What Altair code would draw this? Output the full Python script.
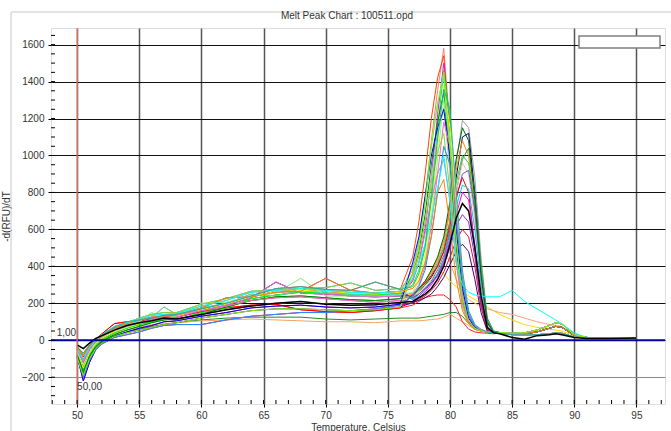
import altair as alt
import pandas as pd

TITLE = "Melt Peak Chart : 100511.opd"
X_TITLE = "Temperature, Celsius"
Y_TITLE = "-d(RFU)/dT"

X_TICKS = [50, 55, 60, 65, 70, 75, 80, 85, 90, 95]
Y_TICKS = [-200, 0, 200, 400, 600, 800, 1000, 1200, 1400, 1600]
X_MINOR = list(range(48, 98))
Y_MINOR = list(range(-300, 1700, 50))

# temperature grids (deg C)
TEMP_LOW = [50, 50.5, 51, 51.5, 52, 53, 54, 55, 56, 57, 58, 60, 62, 64, 66, 68, 70, 72, 74, 76]
TEMP_MID = [77, 77.5, 78, 78.5, 79, 79.5, 80, 80.5, 81, 81.5, 82, 82.5, 83, 83.5]
TEMP_TAIL = [84, 85, 86, 87, 88, 88.5, 89, 90, 91, 93, 95]

# low-temperature parts of the traces (50-76 C)
L0 = [-25, -45, -15, 10, 25, 55, 80, 95, 105, 120, 115, 140, 165, 185, 200, 210, 195, 190, 192, 205]
L1 = [-50, -100, -40, 0, 30, 75, 95, 115, 135, 140, 145, 185, 215, 260, 270, 280, 270, 260, 255, 265]
L2 = [-90, -200, -110, -50, -20, 15, 30, 45, 65, 80, 85, 85, 110, 130, 140, 150, 150, 160, 170, 190]
L3 = [-60, -130, -60, -15, 15, 50, 70, 100, 150, 120, 130, 200, 205, 240, 255, 335, 240, 240, 235, 245]
L4 = [-70, -160, -80, -30, 0, 40, 65, 85, 100, 115, 110, 150, 175, 225, 245, 260, 255, 250, 245, 255]
L5 = [-35, -70, -25, 5, 30, 70, 100, 110, 120, 135, 140, 170, 200, 240, 280, 290, 275, 270, 315, 275]
L6 = [-80, -180, -90, -40, -10, 25, 45, 60, 75, 85, 95, 110, 120, 125, 125, 125, 115, 110, 115, 120]
L7 = [-60, -140, -70, -25, 5, 35, 55, 70, 85, 90, 95, 105, 110, 115, 110, 105, 100, 100, 95, 105]
L8 = [-45, -90, -30, 5, 35, 90, 100, 105, 115, 125, 125, 155, 175, 190, 195, 165, 155, 150, 160, 175]
L9 = [-55, -110, -45, 0, 25, 60, 85, 105, 125, 180, 140, 175, 200, 250, 240, 270, 255, 250, 240, 250]
L10 = [-75, -170, -85, -35, -5, 30, 55, 75, 95, 110, 115, 140, 180, 215, 235, 240, 230, 220, 215, 225]
L11 = [-40, -80, -30, 0, 25, 65, 90, 110, 125, 130, 135, 175, 230, 235, 260, 265, 335, 270, 255, 265]
L12 = [-85, -220, -120, -50, -15, 20, 45, 65, 80, 100, 105, 130, 150, 175, 185, 190, 180, 175, 180, 195]
L13 = [-50, -120, -50, -5, 25, 60, 80, 95, 110, 125, 125, 160, 190, 230, 315, 255, 250, 240, 235, 240]
L14 = [-65, -150, -70, -20, 10, 45, 70, 90, 110, 120, 130, 165, 195, 235, 265, 270, 265, 255, 250, 260]
L15 = [-55, -105, -45, -10, 20, 55, 75, 95, 115, 130, 140, 160, 185, 215, 230, 235, 225, 215, 205, 215]
L16 = [-95, -190, -100, -45, -15, 20, 40, 55, 70, 85, 95, 120, 140, 160, 170, 170, 165, 160, 165, 180]
L17 = [-45, -85, -35, 0, 30, 70, 95, 120, 140, 150, 150, 195, 225, 265, 275, 280, 285, 310, 270, 280]

# melt peaks near 79.5 C (77-83.5 C)
A1 = [380, 520, 760, 1080, 1350, 1580, 1150, 600, 250, 110, 70, 55, 45, 40]
A2 = [450, 640, 900, 1200, 1420, 1540, 1100, 520, 220, 100, 65, 50, 45, 40]
A3 = [320, 420, 600, 880, 1220, 1500, 1150, 650, 300, 130, 75, 55, 45, 40]
A4 = [300, 380, 520, 800, 1140, 1460, 1200, 700, 320, 140, 80, 55, 45, 40]
A5 = [400, 540, 780, 1050, 1280, 1420, 1000, 500, 200, 90, 60, 50, 45, 40]
A6 = [280, 340, 460, 700, 1050, 1380, 1150, 750, 350, 150, 80, 55, 45, 40]
A7 = [360, 480, 680, 950, 1180, 1340, 950, 500, 220, 100, 65, 50, 45, 40]
A8 = [260, 320, 430, 650, 980, 1300, 1100, 700, 330, 140, 80, 55, 45, 40]
A9 = [340, 450, 640, 880, 1100, 1260, 900, 450, 200, 95, 60, 50, 45, 40]
A10 = [420, 560, 780, 1000, 1150, 1250, 1000, 600, 280, 120, 70, 50, 45, 40]
A11 = [250, 300, 400, 620, 900, 1180, 1050, 700, 350, 150, 80, 55, 45, 40]
A12 = [350, 460, 640, 850, 1020, 1120, 800, 420, 180, 90, 60, 50, 45, 40]
A13 = [240, 290, 380, 560, 800, 1050, 950, 650, 320, 140, 75, 50, 45, 40]
A14 = [330, 420, 580, 760, 900, 980, 750, 420, 200, 95, 60, 50, 45, 40]
A15 = [280, 320, 420, 560, 800, 870, 620, 330, 160, 90, 60, 50, 45, 40]
A16 = [330, 420, 520, 660, 820, 1000, 750, 420, 300, 260, 245, 240, 235, 235]
A17 = [360, 500, 740, 1050, 1280, 1450, 1050, 550, 230, 105, 65, 50, 45, 40]
A18 = [290, 360, 500, 760, 1090, 1360, 1250, 800, 380, 160, 85, 60, 45, 40]

# melt peaks near 81.2 C
B1 = [240, 270, 310, 360, 420, 520, 700, 950, 1190, 1150, 880, 450, 120, 50]
B2 = [230, 260, 300, 340, 400, 480, 640, 880, 1100, 1120, 800, 380, 100, 45]
B3 = [250, 280, 320, 370, 440, 540, 720, 920, 1080, 1000, 700, 320, 90, 45]
B4 = [220, 250, 280, 320, 380, 460, 600, 800, 980, 1040, 780, 400, 120, 50]
B5 = [240, 270, 300, 350, 410, 500, 650, 850, 1000, 960, 720, 380, 110, 50]
B6 = [230, 260, 290, 330, 390, 470, 620, 800, 960, 900, 650, 300, 80, 45]
B7 = [210, 240, 270, 310, 360, 440, 580, 760, 900, 920, 700, 350, 100, 45]
B8 = [250, 280, 310, 350, 400, 480, 620, 780, 880, 800, 500, 200, 60, 40]
B9 = [220, 250, 280, 310, 360, 430, 560, 720, 840, 820, 600, 300, 90, 45]
B10 = [200, 230, 260, 300, 350, 420, 540, 680, 800, 760, 520, 250, 70, 40]
B11 = [210, 230, 250, 280, 330, 400, 520, 660, 740, 700, 500, 240, 70, 40]
B12 = [230, 250, 280, 310, 350, 410, 500, 620, 680, 640, 450, 200, 60, 40]
B13 = [200, 220, 240, 270, 310, 370, 450, 540, 600, 560, 400, 180, 55, 40]
B14 = [205, 215, 230, 250, 290, 340, 410, 480, 520, 480, 330, 150, 50, 40]
B15 = [240, 280, 320, 380, 450, 560, 750, 980, 1150, 1080, 760, 350, 95, 45]

# flat / odd traces
S1 = [120, 120, 125, 130, 135, 140, 150, 150, 130, 90, 60, 50, 45, 40]
S2 = [105, 105, 108, 112, 115, 125, 140, 120, 100, 80, 60, 50, 45, 40]
S3 = [190, 210, 230, 240, 245, 245, 220, 180, 100, 60, 45, 40, 38, 35]
S4 = [240, 270, 300, 340, 380, 360, 320, 290, 260, 240, 220, 200, 180, 160]
S5 = [250, 280, 320, 370, 430, 500, 420, 330, 260, 220, 200, 185, 170, 160]

# high-temperature tails (84-95 C)
T0 = [40, 35, 35, 45, 65, 75, 70, 25, 15, 12, 12]
T1 = [38, 30, 28, 30, 35, 40, 38, 18, 12, 10, 10]
T2 = [42, 38, 40, 55, 80, 95, 88, 30, 15, 12, 13]
T3 = [35, 15, 5, 25, 30, 35, 30, 15, 10, 10, 12]
T4 = [235, 270, 210, 170, 130, 110, 90, 40, 15, 12, 12]
T5 = [140, 110, 85, 70, 60, 55, 50, 25, 15, 12, 12]
T6 = [150, 140, 120, 100, 85, 80, 75, 30, 15, 12, 12]

CURVES = [
    ("S1", L6, S1, T1, "#228B22", 1), ("S2", L7, S2, T1, "#F4A460", 1),
    ("S3", L8, S3, T1, "#FF2020", 1), ("S4", L2, S4, T5, "#FFD700", 1),
    ("S5", L14, S5, T6, "#FFA07A", 1),
    ("B1", L0, B1, T0, "#A0A0A0", 1), ("B2", L14, B2, T2, "#000080", 1),
    ("B3", L9, B3, T1, "#FF8C00", 1), ("B4", L4, B4, T2, "#2E8B57", 1),
    ("B5", L10, B5, T0, "#32CD32", 1), ("B6", L3, B6, T1, "#FFB6C1", 1),
    ("B7", L15, B7, T2, "#6A5ACD", 1), ("B8", L8, B8, T0, "#FF0000", 1),
    ("B9", L17, B9, T1, "#00CED1", 1), ("B10", L2, B10, T0, "#FF00FF", 1),
    ("B12", L11, B12, T2, "#8A2BE2", 1), ("B13", L12, B13, T1, "#DC143C", 1),
    ("B14", L16, B14, T0, "#4B0082", 1), ("B15", L13, B15, T2, "#006400", 1),
    ("A1", L1, A1, T2, "#FA8072", 1), ("A2", L5, A2, T0, "#FF4500", 1),
    ("A3", L13, A3, T1, "#FF00FF", 1), ("A4", L4, A4, T0, "#00FF00", 1),
    ("A5", L9, A5, T2, "#40E0D0", 1), ("A6", L14, A6, T1, "#FFFF00", 1),
    ("A7", L10, A7, T0, "#008000", 1), ("A8", L3, A8, T2, "#80FF80", 1),
    ("A9", L0, A9, T1, "#C0C0C0", 1), ("A10", L12, A10, T0, "#0000FF", 1),
    ("A11", L15, A11, T2, "#FF69B4", 1), ("A12", L17, A12, T1, "#9ACD32", 1),
    ("A13", L2, A13, T0, "#1E90FF", 1), ("A14", L13, A14, T1, "#DA70D6", 1),
    ("A15", L11, A15, T0, "#FF7F00", 1), ("A16", L1, A16, T4, "#00FFFF", 1),
    ("A17", L16, A17, T2, "#7CFC00", 1), ("A18", L5, A18, T1, "#20B2AA", 1),
    ("B11", L0, B11, T3, "#000000", 1.5),
]

CROSS_LABELS = ["1,00", "50,00"]
CROSS_T = [50, 50]
CROSS_V = [0, -225]

rows = []
for name, low, mid, tail, color, w in CURVES:
    temps = TEMP_LOW + TEMP_MID + TEMP_TAIL
    vals = low + mid + tail
    for t, v in zip(temps, vals):
        rows.append({"curve": name, "T": t, "v": v, "w": w})
df = pd.DataFrame(rows)

W, H = 614, 376
FONT = "Liberation Sans"

xs = alt.Scale(domain=[47.9, 97.3], nice=False, zero=False)
ys = alt.Scale(domain=[-345, 1690], nice=False, zero=False)

x_axis = alt.Axis(values=X_TICKS, title=X_TITLE, grid=True, gridColor="#555555", gridWidth=1.5,
                  tickSize=3, tickColor="#000000", domain=False, labelFontSize=10,
                  labelColor="#333333", labelPadding=3, titleFontSize=10,
                  titleFontWeight="normal", titleColor="#333333", titlePadding=2,
                  labelFont=FONT, titleFont=FONT)
y_axis = alt.Axis(values=Y_TICKS, title=Y_TITLE, grid=True, format="d",
                  gridColor=alt.condition("datum.value == -200", alt.value("#8a8a8a"), alt.value("#111111")),
                  gridWidth=1, tickSize=3, tickColor="#000000", domain=False,
                  labelFontSize=10, labelColor="#333333", labelPadding=4, titleFontSize=10,
                  titleFontWeight="normal", titleColor="#333333", titlePadding=10,
                  labelFont=FONT, titleFont=FONT)

X = alt.X("T:Q", scale=xs, axis=x_axis)
Y = alt.Y("v:Q", scale=ys, axis=y_axis)

lines = alt.Chart(df).mark_line(clip=True).encode(
    x=X, y=Y,
    color=alt.Color("curve:N", scale=alt.Scale(domain=[c[0] for c in CURVES], range=[c[4] for c in CURVES]), legend=None),
    strokeWidth=alt.StrokeWidth("w:Q", scale=None, legend=None),
)

zero = alt.Chart(pd.DataFrame({"v": [0]})).mark_rule(color="#00009C", strokeWidth=2).encode(y=Y)
redline = alt.Chart(pd.DataFrame({"T": [50]})).mark_rule(color="#F08070", strokeWidth=1.2).encode(x=X)

yminor = alt.Chart(pd.DataFrame({"v": Y_MINOR})).mark_rule(color="#000000", strokeWidth=1).encode(
    y=Y, x=alt.value(0), x2=alt.value(4))
xminor = alt.Chart(pd.DataFrame({"T": X_MINOR})).mark_rule(color="#000000", strokeWidth=1).encode(
    x=X, y=alt.value(H - 4), y2=alt.value(H))

ann = pd.DataFrame({"T": CROSS_T, "v": CROSS_V, "label": CROSS_LABELS})
lab1 = alt.Chart(ann.iloc[[0]]).mark_text(align="right", baseline="bottom", dx=-1, dy=-2,
                                          fontSize=10, font=FONT, color="#333333").encode(x=X, y=Y, text="label:N")
lab2 = alt.Chart(ann.iloc[[1]]).mark_text(align="left", baseline="top", dx=0, dy=0,
                                          fontSize=10, font=FONT, color="#333333").encode(x=X, y=Y, text="label:N")

legend_box = alt.Chart(pd.DataFrame({"k": [0]})).mark_rect(fill="#FFFFFF", stroke="#808080", strokeWidth=1.5).encode(
    x=alt.value(528), x2=alt.value(609), y=alt.value(8), y2=alt.value(20))
frame = alt.Chart(pd.DataFrame({"k": [0]})).mark_rect(fill=None, stroke="#C8C8C8", strokeWidth=1, clip=False).encode(
    x=alt.value(-40), x2=alt.value(640), y=alt.value(-16), y2=alt.value(430))
title = alt.Chart(pd.DataFrame({"label": [TITLE]})).mark_text(
    align="center", baseline="bottom", fontSize=10, font=FONT, color="#333333", clip=False).encode(
    x=alt.value(296), y=alt.value(-7), text="label:N")

chart = alt.layer(frame, lines, zero, redline, yminor, xminor, lab1, lab2, legend_box, title).properties(
    width=W, height=H,
    autosize=alt.AutoSizeParams(type="none"),
    padding={"left": 51, "top": 28, "right": 6, "bottom": 27},
).configure_view(stroke="#000000", strokeWidth=1).configure(background="#FFFFFF")

chart.save("out.html", embed_options={"renderer": "svg", "actions": False})
